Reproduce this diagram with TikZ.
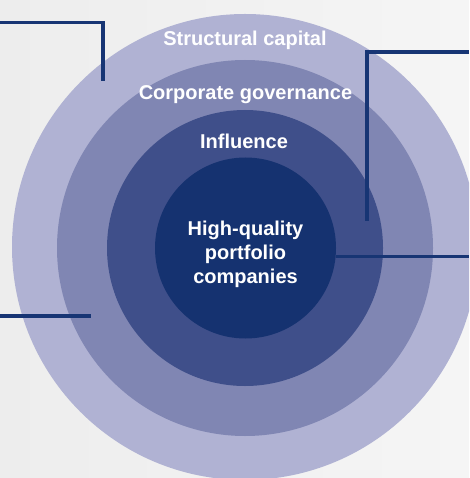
\documentclass[tikz,border=0pt]{standalone}
\usepackage{fontspec}
\setmainfont{Liberation Sans}
\definecolor{bgL}{HTML}{EDEDED}
\definecolor{bgR}{HTML}{F5F5F5}
\definecolor{ringA}{HTML}{B0B2D3}
\definecolor{ringB}{HTML}{8086B3}
\definecolor{ringC}{HTML}{3F4F8A}
\definecolor{ringD}{HTML}{153270}
\definecolor{navyline}{HTML}{173574}
\begin{document}
\begin{tikzpicture}[x=1pt,y=-1pt,
  ring/.style={circle, draw=none, inner sep=0pt, minimum size=#1},
  lbl/.style={text=white, font=\fontsize{20}{24}\selectfont\bfseries, anchor=base, inner sep=0pt, align=center},
  conn/.style={draw=navyline, line width=3.2pt}]
\useasboundingbox (0,0) rectangle (469,478);
\clip (0,0) rectangle (469,478);
\shade[left color=bgL, right color=bgR] (0,0) rectangle (469,478);
% rings
\node[ring=466pt, fill=ringA] (outer) at (245,247) {};
\node[ring=376pt, fill=ringB] (gov) at (245,248) {};
\node[ring=276pt, fill=ringC] (infl) at (245,248) {};
\node[ring=181pt, fill=ringD] (core) at (245.5,248) {};
% labels
\node[lbl] (t1) at (245,46) {Structural capital};
\node[lbl] (t2) at (245.5,99.3) {Corporate governance};
\node[lbl] (t3) at (244,148.3) {Influence};
\node[lbl] (t4) at (245.5,283) {High-quality\\portfolio\\companies};
% connector ends
\coordinate (a0) at (0,22.5);
\coordinate (a1) at (103,22.5);
\coordinate (a2) at (103,81);
\coordinate (b0) at (469,52);
\coordinate (b1) at (367,52);
\coordinate (b2) at (367,220.5);
\coordinate (c1) at (469,256.5);
\coordinate (d0) at (0,316);
\coordinate (d1) at (91,316);
\draw[conn] (a0) -- (a1) -- (a2);
\draw[conn] (b0) -- (b1) -- (b2);
\draw[conn] (core.east |- c1) -- (c1);
\draw[conn] (d0) -- (d1);
\end{tikzpicture}
\end{document}
